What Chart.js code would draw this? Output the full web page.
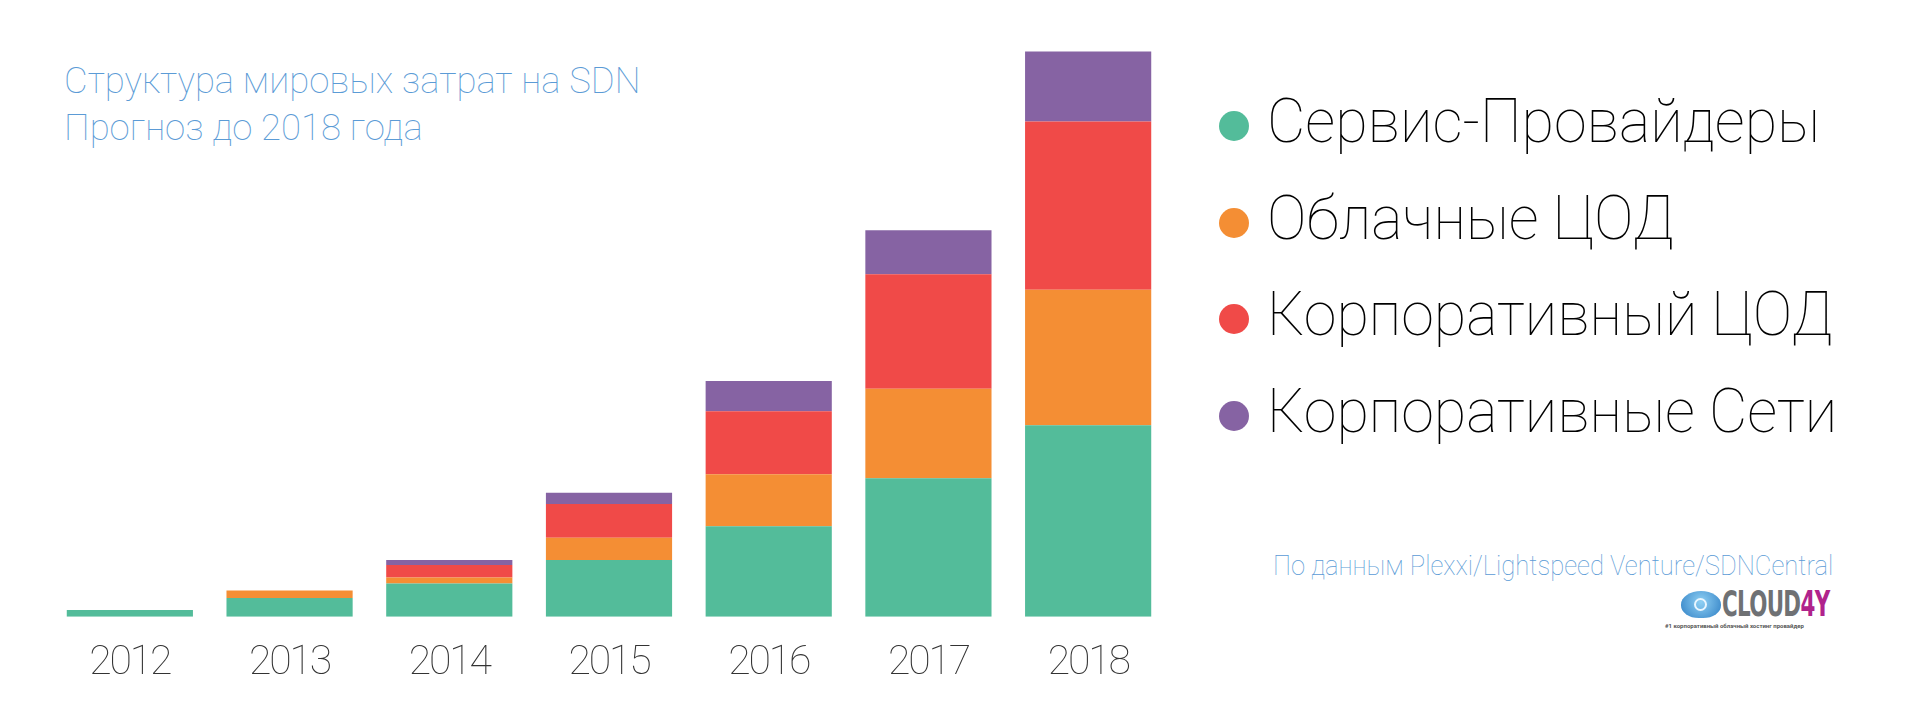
<!DOCTYPE html>
<html>
<head>
<meta charset="utf-8">
<script src="https://cdn.jsdelivr.net/npm/chart.js@4"></script>
<style>
  html, body { margin: 0; padding: 0; background: #fff; }
  body { width: 1920px; height: 706px; position: relative; overflow: hidden; font-family: Roboto, "Open Sans", sans-serif; }
  #grafico { position: absolute; left: 50px; top: 0; width: 1118px; height: 710px; }
  #titulo { position: absolute; left: 64px; top: 57px; color: #5b9bd6; font-size: 36.5px; font-weight: 100; line-height: 47px; }
  #legenda { position: absolute; left: 1219px; top: 77px; }
  .item { position: relative; height: 96.5px; }
  .ponto { position: absolute; left: 0; top: 34px; width: 30px; height: 30px; border-radius: 50%; }
  .nome { position: absolute; left: 48px; top: 7px; white-space: nowrap; font-size: 62px; font-weight: 100; color: #000; line-height: 74px; transform: scaleX(0.955); transform-origin: left; }
  #fonte { position: absolute; left: 1273px; top: 550px; color: #5b9bd6; font-size: 27px; font-weight: 100; white-space: nowrap; transform: scaleX(0.948); transform-origin: left; }
  #logo { position: absolute; left: 1665px; top: 588px; width: 170px; height: 42px; }
  #nuvem { position: absolute; left: 16px; top: 3px; width: 40px; height: 27px; border-radius: 50% 50% 45% 45%; background: radial-gradient(circle at 50% 40%, #8fd0f4, #2f7fc4); }
  #nuvem:after { content: ""; position: absolute; left: 13px; top: 7px; width: 13px; height: 13px; border-radius: 50%; border: 2px solid #e9f6ff; box-sizing: border-box; }
  #marca { position: absolute; left: 57px; top: -5px; font-family: "DejaVu Sans Condensed", "Liberation Sans Narrow", sans-serif; font-weight: bold; font-size: 36px; letter-spacing: -1px; color: #6f7174; transform: scaleX(0.66); transform-origin: left; }
  #marca span { color: #b0238c; }
  #slogan { position: absolute; left: 0; top: 34px; font-size: 6px; color: #555; white-space: nowrap; font-weight: bold; }
</style>
</head>
<body>
<div id="titulo">Структура мировых затрат на SDN<br>Прогноз до 2018 года</div>
<div id="grafico"><canvas id="barras"></canvas></div>
<div id="legenda"></div>
<div id="fonte">По данным Plexxi/Lightspeed Venture/SDNCentral</div>
<div id="logo">
  <div id="nuvem"></div>
  <div id="marca">CLOUD<span>4Y</span></div>
  <div id="slogan">#1 корпоративный облачный хостинг провайдер</div>
</div>
<script>
// anos e segmentos (млрд $)
var anos = ["2012", "2013", "2014", "2015", "2016", "2017", "2018"];
var segmentos = ["Сервис-Провайдеры", "Облачные ЦОД", "Корпоративный ЦОД", "Корпоративные Сети"];
var cores = ["#53bc9a", "#f48e34", "#f04a48", "#8663a3"];

var provedores = [0.43, 1.17, 2.08, 3.54, 5.64, 8.63, 11.92];
var nuvem_cod = [0, 0.46, 0.36, 1.38, 3.23, 5.56, 8.44];
var corp_cod = [0, 0, 0.79, 2.1, 3.92, 7.13, 10.48];
var corp_redes = [0, 0, 0.31, 0.71, 1.89, 2.75, 4.36];

var valores = [provedores, nuvem_cod, corp_cod, corp_redes];

var conjuntos = [];
for (var i = 0; i < segmentos.length; i++) {
  conjuntos.push({
    label: segmentos[i],
    data: valores[i],
    backgroundColor: cores[i],
    borderWidth: 0,
    barPercentage: 0.79,
    categoryPercentage: 1.0,
  });
}

// rótulos dos anos mais estreitos, como no original
var apertar_rotulos = {
  id: "apertar_rotulos",
  beforeDraw: function (chart) {
    chart.ctx.letterSpacing = "-2.2px";
  },
};

var dados_sdn = {
  type: "bar",
  data: {
    labels: anos,
    datasets: conjuntos,
  },
  options: {
    responsive: true,
    maintainAspectRatio: false,
    animation: false,
    layout: { padding: 0 },
    plugins: {
      legend: { display: false },
      tooltip: { enabled: false },
    },
    scales: {
      x: {
        stacked: true,
        grid: { display: false, drawTicks: false },
        border: { display: false },
        ticks: {
          color: "#333",
          padding: 22,
          font: { family: "Roboto", size: 41, weight: 100 },
        },
      },
      y: {
        stacked: true,
        display: false,
        min: 0,
        max: 38.4,
      },
    },
  },
  plugins: [apertar_rotulos],
};

var ctx = document.getElementById("barras");
var chart_sdn = new Chart(ctx, dados_sdn);

// legenda
var legenda = document.getElementById("legenda");
for (var j = 0; j < segmentos.length; j++) {
  var item = document.createElement("div");
  item.className = "item";
  item.innerHTML = '<div class="ponto" style="background:' + cores[j] + '"></div><div class="nome">' + segmentos[j] + "</div>";
  legenda.appendChild(item);
}
</script>
</body>
</html>
